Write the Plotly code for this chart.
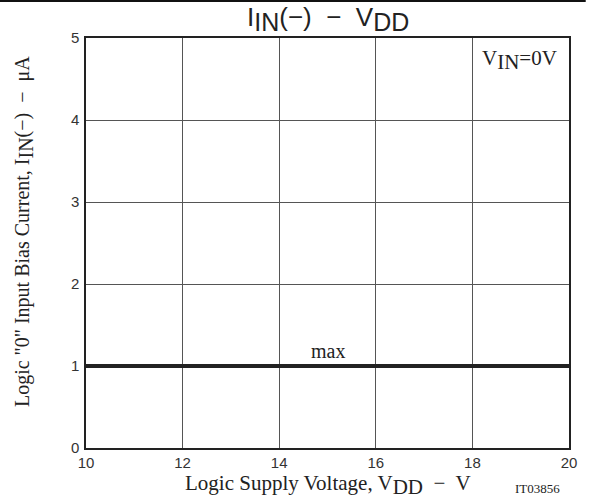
import plotly.graph_objects as go

vdd = [10, 20]
iin_max = [1.0, 1.0]
x_ticks = [10, 12, 14, 16, 18, 20]
y_ticks = [0, 1, 2, 3, 4, 5]

W, H = 589, 501
L, R, T, B = 86, 12, 38, 53
pw, ph = W - L - R, H - T - B

def px(x):
    return (x - L) / pw

def py(y):
    return (H - B - y) / ph

def sub(t, size):
    return f'<sub><span style="font-size:{size}px">{t}</span></sub>'

fig = go.Figure()
fig.add_trace(go.Scatter(x=vdd, y=iin_max, mode="lines",
                         line=dict(color="#222222", width=4), showlegend=False,
                         hoverinfo="skip"))

serif = "Liberation Serif, Times New Roman, serif"
sans = "Liberation Sans, Arial, sans-serif"

fig.update_layout(
    width=W, height=H,
    margin=dict(l=L, r=R, t=T, b=B),
    paper_bgcolor="white", plot_bgcolor="white",
    xaxis=dict(range=[10, 20], tickvals=x_ticks, showgrid=True, gridcolor="#555555",
               gridwidth=1, zeroline=False, showline=True, linecolor="#222222",
               linewidth=1.5, mirror=True, ticks="", tickfont=dict(family=sans, size=15, color="#333333")),
    yaxis=dict(range=[0, 5], tickvals=y_ticks, showgrid=True, gridcolor="#555555",
               gridwidth=1, zeroline=False, showline=True, linecolor="#222222",
               linewidth=1.5, mirror=True, ticks="", ticklabelstandoff=2,
               tickfont=dict(family=sans, size=15, color="#333333")),
    font=dict(family=serif, color="#222222"),
    showlegend=False,
)

# top rule
fig.add_shape(type="line", xref="paper", yref="paper", x0=px(-5), x1=px(W + 5),
              y0=py(1), y1=py(1), line=dict(color="#111111", width=2))

ann = [
    dict(text="I" + sub("IN", 25) + "(−)  −  V" + sub("DD", 25), x=px(332), y=py(19),
         font=dict(family=sans, size=26, color="#222222")),
    dict(text='Logic "0" Input Bias Current, I' + sub("IN", 20) + "(−)  −  μA", x=px(23), y=py(232),
         textangle=-90, font=dict(family=serif, size=20, color="#222222")),
    dict(text="Logic Supply Voltage, V" + sub("DD", 21) + "  −  V", x=px(332), y=py(485),
         font=dict(family=serif, size=21, color="#222222")),
    dict(text="IT03856", x=px(545), y=py(488),
         font=dict(family=serif, size=13, color="#222222")),
    dict(text="V" + sub("IN", 21) + "=0V", x=px(527), y=py(60),
         font=dict(family=serif, size=21, color="#222222")),
    dict(text="max", x=px(332), y=py(351),
         font=dict(family=serif, size=20, color="#222222")),
]
for a in ann:
    fig.add_annotation(xref="paper", yref="paper", showarrow=False,
                       xanchor="center", yanchor="middle", **a)

fig.write_html("out.html", config={"displayModeBar": False},
               post_script="document.body.style.margin='0';document.body.style.overflow='hidden';")
